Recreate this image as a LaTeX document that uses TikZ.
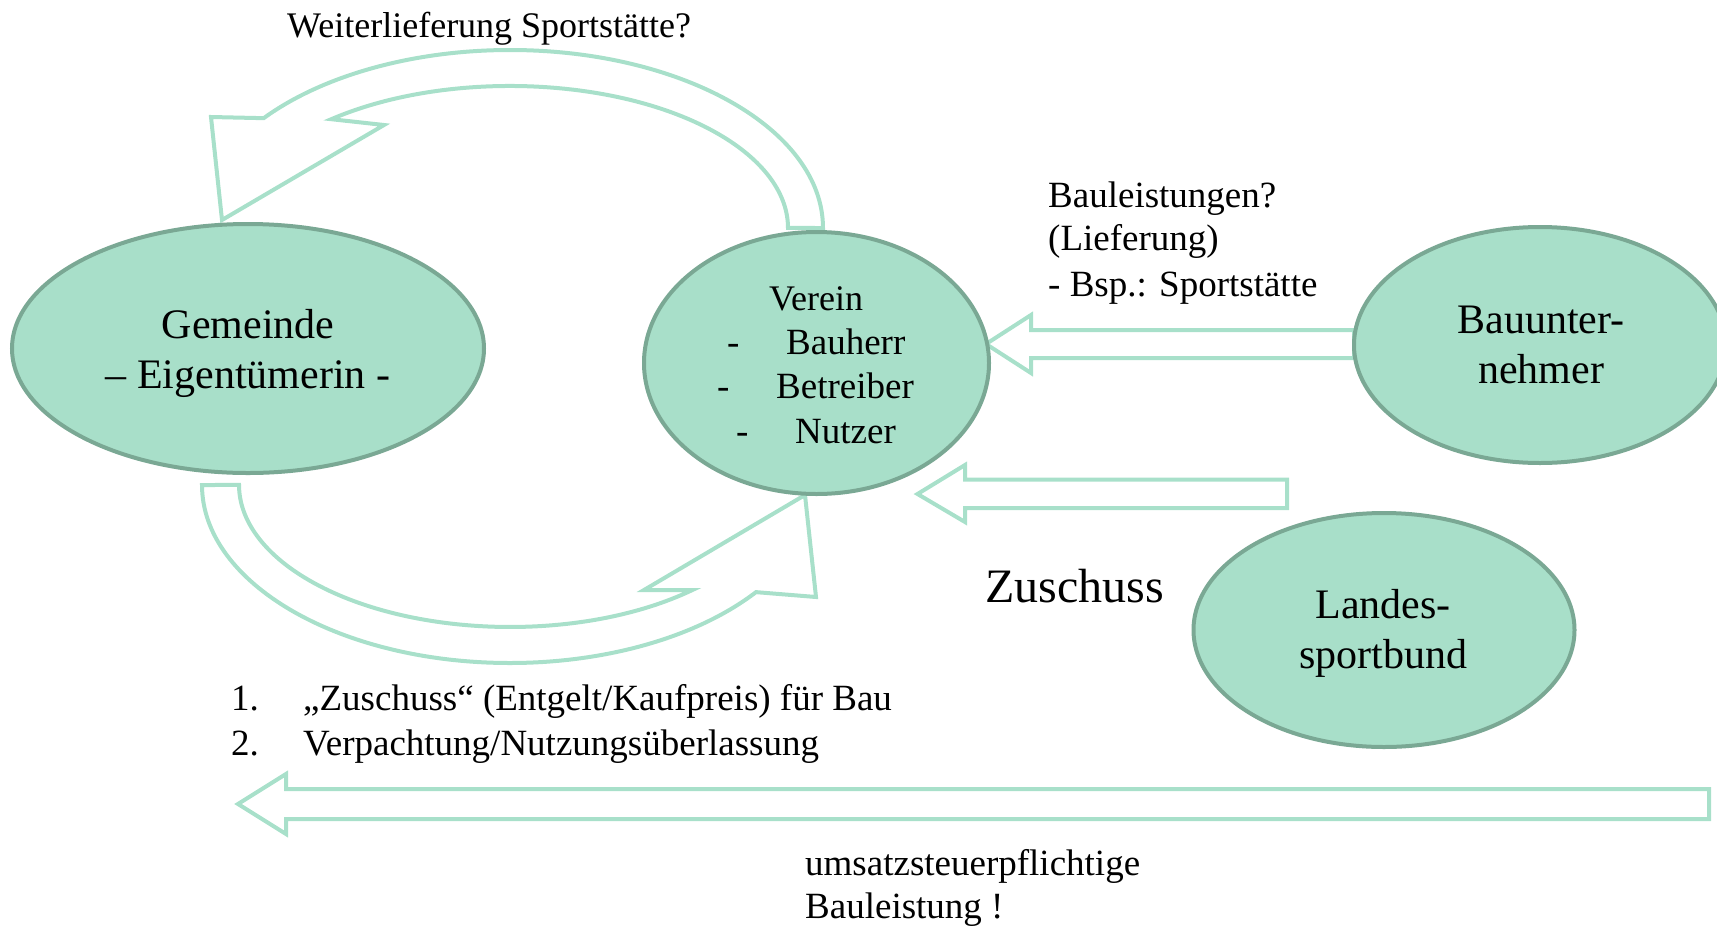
\documentclass[tikz,border=0pt]{standalone}
\usepackage{fontspec}
\setmainfont{Liberation Serif}
\usetikzlibrary{shapes.geometric}
\definecolor{ellfill}{RGB}{168,223,201}
\definecolor{elldraw}{RGB}{122,168,148}
\definecolor{arrowline}{RGB}{168,224,202}
\begin{document}
\begin{tikzpicture}[x=1pt,y=-1pt,
  party/.style={ellipse, fill=ellfill, draw=elldraw, line width=4pt, inner sep=0pt},
  blockarrow/.style={draw=arrowline, line width=4pt, line join=miter},
  lbl/.style={anchor=base west, inner sep=0pt, font=\fontsize{37}{44}\selectfont},
  ctr/.style={anchor=base, inner sep=0pt, font=\fontsize{42}{50}\selectfont},
  vtxt/.style={anchor=base west, inner sep=0pt, font=\fontsize{37}{44}\selectfont}]
\useasboundingbox (0,0) rectangle (1717,927);

% curved arrow top: Verein -> Gemeinde
\draw[blockarrow] (823,228)
  arc[start angle=0, end angle=141.9, x radius=313pt, y radius=178pt]
  -- (211,117) -- (222,220) -- (384,125) -- (331.3,119.2)
  arc[start angle=130, end angle=0, x radius=278pt, y radius=142pt]
  -- cycle;

% curved arrow bottom: Gemeinde -> Verein
\draw[blockarrow] (202,485)
  arc[start angle=180, end angle=323, x radius=308pt, y radius=178pt]
  -- (816,597) -- (805,495) -- (644,590) -- (692.4,590)
  arc[start angle=312.3, end angle=180, x radius=271pt, y radius=142pt]
  -- cycle;

% straight block arrows
\draw[blockarrow] (986,344) -- (1031,315) -- (1031,330) -- (1354,330)
  -- (1354,358) -- (1031,358) -- (1031,373) -- cycle;
\draw[blockarrow] (917.5,494) -- (965,465) -- (965,479.5) -- (1287,479.5)
  -- (1287,508) -- (965,508) -- (965,522) -- cycle;
\draw[blockarrow] (238,804) -- (286,774) -- (286,789) -- (1709,789)
  -- (1709,819) -- (286,819) -- (286,834) -- cycle;

% ellipses
\node[party, minimum width=472, minimum height=249] (gem) at (248,348.5) {};
\node[party, minimum width=345, minimum height=262] (ver) at (816.5,363) {};
\node[party, minimum width=372, minimum height=236] (bau) at (1540,345) {};
\node[party, minimum width=381, minimum height=234] (lsb) at (1384,630) {};

% ellipse texts
\node[ctr] (gemA) at (248,338) {Gemeinde};
\node[ctr] (gemB) at (248,388) {– Eigentümerin -};
\node[ctr, font=\fontsize{36}{44}\selectfont] (verA) at (816,310) {Verein};
\node[vtxt] (verD1) at (727,354) {-};
\node[vtxt] (verW1) at (786,354) {Bauherr};
\node[vtxt] (verD2) at (717,398) {-};
\node[vtxt] (verW2) at (776,398) {Betreiber};
\node[vtxt] (verD3) at (736,443) {-};
\node[vtxt] (verW3) at (795,443) {Nutzer};
\node[ctr] (bauA) at (1541,333) {Bauunter-};
\node[ctr] (bauB) at (1541,383) {nehmer};
\node[ctr] (lsbA) at (1383,618) {Landes-};
\node[ctr] (lsbB) at (1383,668) {sportbund};

% labels
\node[lbl, font=\fontsize{36}{44}\selectfont] (wl) at (287,37) {Weiterlieferung Sportstätte?};
\node[lbl] (bl1) at (1048,207) {Bauleistungen?};
\node[lbl] (bl2) at (1048,250) {(Lieferung)};
\node[lbl] (bl3) at (1048,296) {- Bsp.: Sportstätte};
\node[lbl, font=\fontsize{48}{56}\selectfont] (zu) at (985,602) {Zuschuss};
\node[lbl] (n1) at (231,710) {1.};
\node[lbl] (l1) at (303,710) {„Zuschuss“ (Entgelt/Kaufpreis) für Bau};
\node[lbl] (n2) at (231,755) {2.};
\node[lbl] (l2) at (303,755) {Verpachtung/Nutzungsüberlassung};
\node[lbl] (us1) at (805,875) {umsatzsteuerpflichtige};
\node[lbl] (us2) at (805,918) {Bauleistung !};
\end{tikzpicture}
\end{document}
